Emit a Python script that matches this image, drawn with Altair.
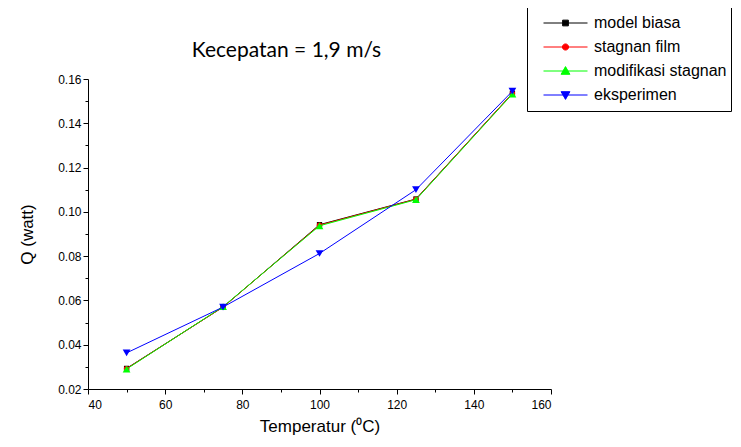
import altair as alt
import pandas as pd

temps = [50, 75, 100, 125, 150]
model_biasa = [0.0293, 0.0570, 0.0942, 0.1058, 0.1535]
stagnan_film = [0.0292, 0.0570, 0.0940, 0.1057, 0.1535]
modifikasi_stagnan = [0.0290, 0.0572, 0.0937, 0.1055, 0.1532]
eksperimen = [0.0363, 0.0570, 0.0812, 0.1100, 0.1545]

series_names = ["model biasa", "stagnan film", "modifikasi stagnan", "eksperimen"]
series_values = [model_biasa, stagnan_film, modifikasi_stagnan, eksperimen]
colors = ["#000000", "#FF0000", "#00FF00", "#0000FF"]
shapes = ["square", "circle", "triangle-up", "triangle-down"]
sizes = [28, 30, 60, 60]
legend_paths = [
    "M-1,0H1M-0.13,-0.13H0.13V0.13H-0.13Z",
    "M-1,0H1M0.14,0A0.14,0.14 0 1 1 -0.14,0A0.14,0.14 0 1 1 0.14,0Z",
    "M-1,0H1M0,-0.2L0.2,0.15H-0.2Z",
    "M-1,0H1M0,0.2L0.2,-0.15H-0.2Z",
]

rows = []
for name, vals in zip(series_names, series_values):
    for t, q in zip(temps, vals):
        rows.append({"T": t, "Q": q, "series": name})
df = pd.DataFrame(rows)

font = "Liberation Sans"

x_enc = alt.X(
    "T:Q",
    scale=alt.Scale(domain=[40, 160], nice=False),
    axis=alt.Axis(
        title="Temperatur (⁰C)",
        values=list(range(40, 161, 10)),
        labelExpr="datum.value % 20 == 0 ? datum.label : ''",
        tickSize={"condition": {"test": "datum.value % 20 == 0", "value": 5}, "value": 3},
        grid=False,
        format="d",
        labelPadding=5,
        titlePadding=8,
        titleFontWeight="normal",
        titleFontSize=17,
        labelFontSize=12,
    ),
)
y_enc = alt.Y(
    "Q:Q",
    scale=alt.Scale(domain=[0.02, 0.16], nice=False, zero=False),
    axis=alt.Axis(
        title="Q (watt)",
        values=[round(0.02 + 0.01 * i, 2) for i in range(15)],
        labelExpr="round(datum.value*100) % 2 == 0 ? format(datum.value, '.2f') : ''",
        tickSize={"condition": {"test": "round(datum.value*100) % 2 == 0", "value": 5}, "value": 3},
        grid=False,
        labelPadding=2,
        titlePadding=21,
        titleFontWeight="normal",
        titleFontSize=17,
        labelFontSize=12,
    ),
)

layers = []
for name, c, sh, sz in zip(series_names, colors, shapes, sizes):
    layers.append(
        alt.Chart(df)
        .transform_filter(alt.datum.series == name)
        .mark_line(
            color=c,
            strokeWidth=1,
            point=alt.OverlayMarkDef(shape=sh, filled=True, size=sz, color=c, opacity=1),
        )
        .encode(x=x_enc, y=y_enc)
    )

legend_def = alt.Legend(
    title=None,
    orient="none",
    legendX=439,
    legendY=-72,
    symbolSize=1936,
    symbolStrokeWidth=1,
    symbolOffset=12,
    clipHeight=24,
    rowPadding=0,
    padding=4,
    labelFont=font,
    labelFontSize=16,
    labelColor="#000000",
    labelOffset=6,
    strokeColor="#000000",
    fillColor="#FFFFFF",
)

legend_layer = (
    alt.Chart(df)
    .transform_filter("false")
    .mark_point(filled=True, opacity=1)
    .encode(
        x=x_enc,
        y=y_enc,
        shape=alt.Shape("series:N", scale=alt.Scale(domain=series_names, range=legend_paths), legend=legend_def),
        fill=alt.Fill("series:N", scale=alt.Scale(domain=series_names, range=colors), legend=legend_def),
        stroke=alt.Stroke("series:N", scale=alt.Scale(domain=series_names, range=colors), legend=legend_def),
    )
)

chart = (
    alt.layer(*layers, legend_layer)
    .properties(
        width=463,
        height=310,
        autosize=alt.AutoSizeParams(type="none"),
        padding={"left": 80, "top": 71, "right": 182, "bottom": 50},
        background="#FFFFFF",
        title=alt.TitleParams(
            "Kecepatan = 1,9 m/s",
            font="Lato",
            fontSize=21,
            fontWeight="normal",
            color="#000000",
            anchor="middle",
            frame="group",
            dx=-33,
            dy=54,
            offset=0,
        ),
    )
    .configure_view(stroke=None)
    .configure_axis(
        domainColor="#000000",
        tickColor="#000000",
        labelColor="#000000",
        titleColor="#000000",
        labelFont=font,
        titleFont=font,
        labelFontSize=12,
        titleFontSize=17,
        titleFontWeight="normal",
        domainWidth=1,
        tickWidth=1,
    )
)

chart.save("out.html", embed_options={"renderer": "svg", "actions": False})
